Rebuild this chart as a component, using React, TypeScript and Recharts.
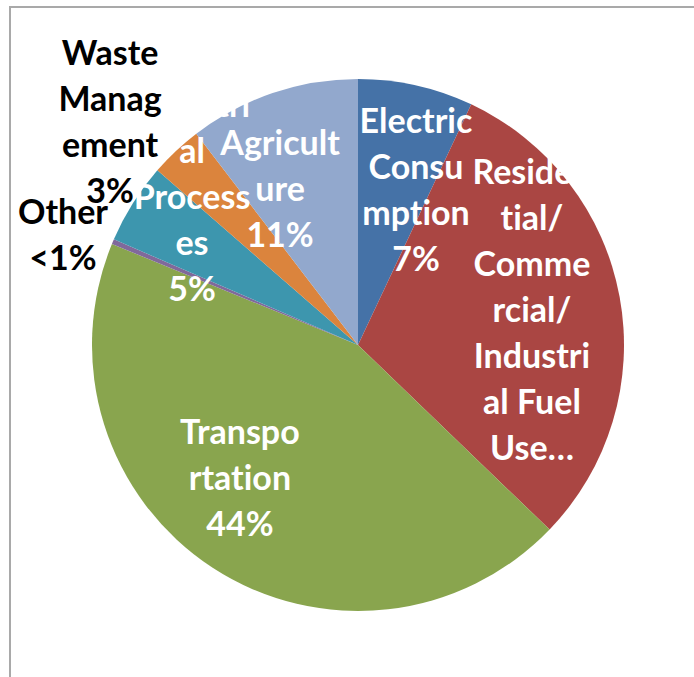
import React from 'react';
import { PieChart, Pie, Cell } from 'recharts';

// sectors, clockwise from 12 o'clock
const categories = [
  'Electric Consumption',
  'Residential/ Commercial/ Industrial Fuel Use',
  'Transportation',
  'Other',
  'Industrial Processes',
  'Waste Management',
  'Agriculture',
];

// share of emissions (%)
const shares = [7.0, 30.2, 44.0, 0.3, 4.9, 3.2, 10.4];

// data labels as Excel wrapped them
const labelLines = [
  ['Electric', 'Consu', 'mption', '7%'],
  ['Residen', 'tial/', 'Comme', 'rcial/', 'Industri', 'al Fuel', 'Use…'],
  ['Transpo', 'rtation', '44%'],
  ['Other', '<1%'],
  ['Industri', 'al', 'Process', 'es', '5%'],
  ['Waste', 'Manag', 'ement', '3%'],
  ['Agricult', 'ure', '11%'],
];

const colors = ['#4572A7', '#AA4643', '#89A54E', '#80699B', '#3D96AE', '#DB843D', '#92A8CD'];

// label block centre, as a fraction of the radius from the pie centre
const labelOffsets = [
  [0.218, -0.583],
  [0.654, -0.132],
  [-0.444, 0.5],
  [-1.109, -0.412],
  [-0.624, -0.556],
  [-0.932, -0.84],
  [-0.293, -0.585],
];
const labelColors = ['#fff', '#fff', '#fff', '#000', '#fff', '#000', '#fff'];

const data = categories.map((name, i) => ({ name, value: shares[i] }));

const LINE_H = 46;

const renderLabel = (props: any) => {
  const { cx, cy, outerRadius, index } = props;
  const [fx, fy] = labelOffsets[index];
  const x = cx + fx * outerRadius;
  const yc = cy + fy * outerRadius;
  const lines = labelLines[index];
  const top = yc - ((lines.length - 1) * LINE_H) / 2 + 12;
  return (
    <text
      key={`lbl-${index}`}
      x={x}
      y={top}
      textAnchor="middle"
      fill={labelColors[index]}
      fontFamily="Lato, 'Open Sans', sans-serif"
      fontWeight="bold"
      fontSize={34}
      style={{ fontVariantLigatures: 'none' }}
    >
      {lines.map((l, i) => (
        <tspan key={i} x={x} y={top + i * LINE_H}>
          {l}
        </tspan>
      ))}
    </text>
  );
};

const App: React.FC = () => {
  return (
    <div style={{ position: 'absolute', left: 0, top: 0, width: 694, height: 677, background: '#fff', overflow: 'hidden' }}>
      <div
        style={{
          position: 'absolute',
          left: 9,
          top: 6,
          width: 720,
          height: 720,
          borderLeft: '2px solid #a9a9a9',
          borderTop: '2px solid #a9a9a9',
        }}
      />
      <div style={{ position: 'absolute', left: 0, top: 0 }}>
        <PieChart width={694} height={677} margin={{ top: 0, right: 0, bottom: 0, left: 0 }}>
          <Pie
            data={data}
            dataKey="value"
            nameKey="name"
            cx={358}
            cy={345}
            outerRadius={266}
            startAngle={90}
            endAngle={-270}
            stroke="none"
            label={renderLabel}
            labelLine={false}
            isAnimationActive={false}
          >
            {data.map((d, i) => (
              <Cell key={d.name} fill={colors[i]} />
            ))}
          </Pie>
        </PieChart>
      </div>
    </div>
  );
};

export default App;
